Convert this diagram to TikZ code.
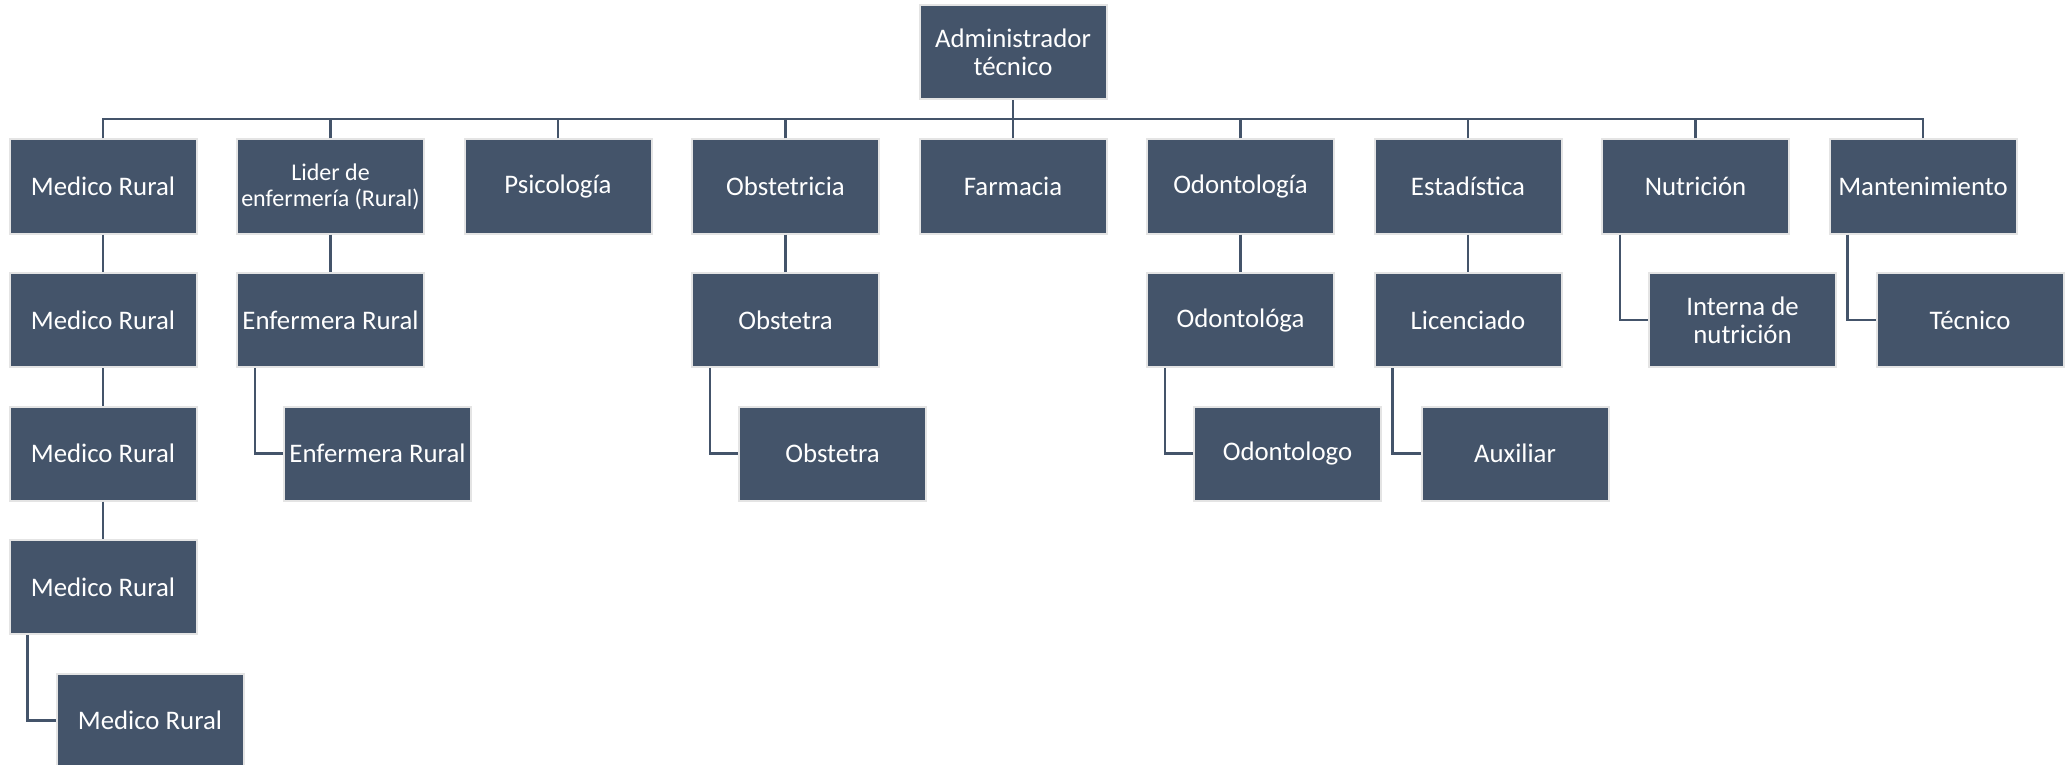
\documentclass[tikz,border=0pt]{standalone}
\usepackage{fontspec}
\setmainfont{Carlito}
\usetikzlibrary{positioning}
\definecolor{pizarra}{HTML}{44546A}
\definecolor{borde}{HTML}{E4E4E4}

\begin{document}
\begin{tikzpicture}
        [
            x=0.5pt, y=-0.5pt,
            puesto/.style={rectangle, fill=pizarra, draw=borde, line width=1pt, minimum width=93.5pt, minimum height=47pt, inner sep=1pt, text=white, align=center, font=\fontsize{13.4}{14.2}\selectfont},
            linea/.style={draw=pizarra, line width=1.2pt},
        ]
            \useasboundingbox (0,0) rectangle (2071,765);

            \node[puesto] (admin) at (1013, 52.5) {Administrador\\técnico};
            \coordinate (bus) at (1013, 119);

            \node[puesto] (med) at (103.0, 186.5) {Medico Rural};
            \node[puesto, font=\fontsize{12}{13}\selectfont] (lid) at (330.5, 186.5) {Lider de\\enfermería (Rural)};
            \node[puesto] (psi) at (558.0, 186.5) {Psicología};
            \node[puesto] (obs) at (785.5, 186.5) {Obstetricia};
            \node[puesto] (far) at (1013.0, 186.5) {Farmacia};
            \node[puesto] (odo) at (1240.5, 186.5) {Odontología};
            \node[puesto] (est) at (1468.0, 186.5) {Estadística};
            \node[puesto] (nut) at (1695.5, 186.5) {Nutrición};
            \node[puesto] (man) at (1923.0, 186.5) {Mantenimiento};

            \node[puesto] (med2) at (103.0, 320) {Medico Rural};
            \node[puesto] (med3) at (103.0, 453.5) {Medico Rural};
            \node[puesto] (med4) at (103.0, 587) {Medico Rural};
            \node[puesto] (med5) at (150.0, 720.5) {Medico Rural};
            \node[puesto] (enf1) at (330.5, 320) {Enfermera Rural};
            \node[puesto] (enf2) at (377.5, 453.5) {Enfermera Rural};
            \node[puesto] (obt1) at (785.5, 320) {Obstetra};
            \node[puesto] (obt2) at (832.5, 453.5) {Obstetra};
            \node[puesto] (odg1) at (1240.5, 320) {Odontológa};
            \node[puesto] (odg2) at (1287.5, 453.5) {Odontologo};
            \node[puesto] (lic) at (1468.0, 320) {Licenciado};
            \node[puesto] (aux) at (1515.0, 453.5) {Auxiliar};
            \node[puesto] (int) at (1742.5, 320) {Interna de\\nutrición};
            \node[puesto] (tec) at (1970.0, 320) {Técnico};

            % bus superior
            \draw[linea] (admin.south) -- (bus);
            \draw[linea] (med.north) |- (bus);
            \draw[linea] (lid.north) |- (bus);
            \draw[linea] (psi.north) |- (bus);
            \draw[linea] (obs.north) |- (bus);
            \draw[linea] (far.north) |- (bus);
            \draw[linea] (odo.north) |- (bus);
            \draw[linea] (est.north) |- (bus);
            \draw[linea] (nut.north) |- (bus);
            \draw[linea] (man.north) |- (bus);

            % dependencias
            \draw[linea] (med.south) -- (med2.north);
            \draw[linea] (med2.south) -- (med3.north);
            \draw[linea] (med3.south) -- (med4.north);
            \draw[linea] ([xshift=9.5pt]med4.south west) |- (med5.west);
            \draw[linea] (lid.south) -- (enf1.north);
            \draw[linea] ([xshift=9.5pt]enf1.south west) |- (enf2.west);
            \draw[linea] (obs.south) -- (obt1.north);
            \draw[linea] ([xshift=9.5pt]obt1.south west) |- (obt2.west);
            \draw[linea] (odo.south) -- (odg1.north);
            \draw[linea] ([xshift=9.5pt]odg1.south west) |- (odg2.west);
            \draw[linea] (est.south) -- (lic.north);
            \draw[linea] ([xshift=9.5pt]lic.south west) |- (aux.west);
            \draw[linea] ([xshift=9.5pt]nut.south west) |- (int.west);
            \draw[linea] ([xshift=9.5pt]man.south west) |- (tec.west);
        \end{tikzpicture}
\end{document}
